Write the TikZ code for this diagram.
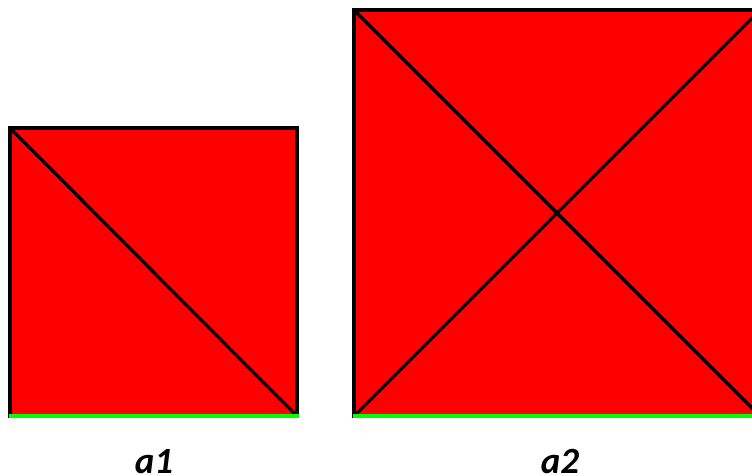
\documentclass[tikz,border=0pt]{standalone}
\usepackage{fontspec}
\setmainfont{Carlito}
\definecolor{pgreen}{RGB}{0,255,0}
\definecolor{pred}{RGB}{255,0,0}
\begin{document}
\begin{tikzpicture}[x=1pt,y=-1pt,
  edge/.style={line width=3.2pt,black,line cap=rect},
  base/.style={line width=4pt,pgreen,line cap=butt},
  lbl/.style={font=\fontsize{37}{42}\selectfont\bfseries\itshape,anchor=base}]
\useasboundingbox (0,0) rectangle (752,475);
% left square
\fill[pred] (10,128) rectangle (297,416);
\draw[edge] (10,416) -- (10,128) -- (297,128) -- (297,416);
\draw[edge,line cap=butt] (10,128) -- (297,416);
\draw[base] (8.5,416) -- (298.5,416);
% right square
\fill[pred] (354,10) rectangle (760,416);
\draw[edge] (354,416) -- (354,10) -- (760,10) -- (760,416);
\draw[edge,line cap=butt] (354,10) -- (760,416);
\draw[edge,line cap=butt] (354,416) -- (760,10);
\draw[base] (352.5,416) -- (761.5,416);
% labels
\node[lbl] (a1) at (154,473) {a1};
\node[lbl] (a2) at (560,473) {a2};
\end{tikzpicture}
\end{document}
